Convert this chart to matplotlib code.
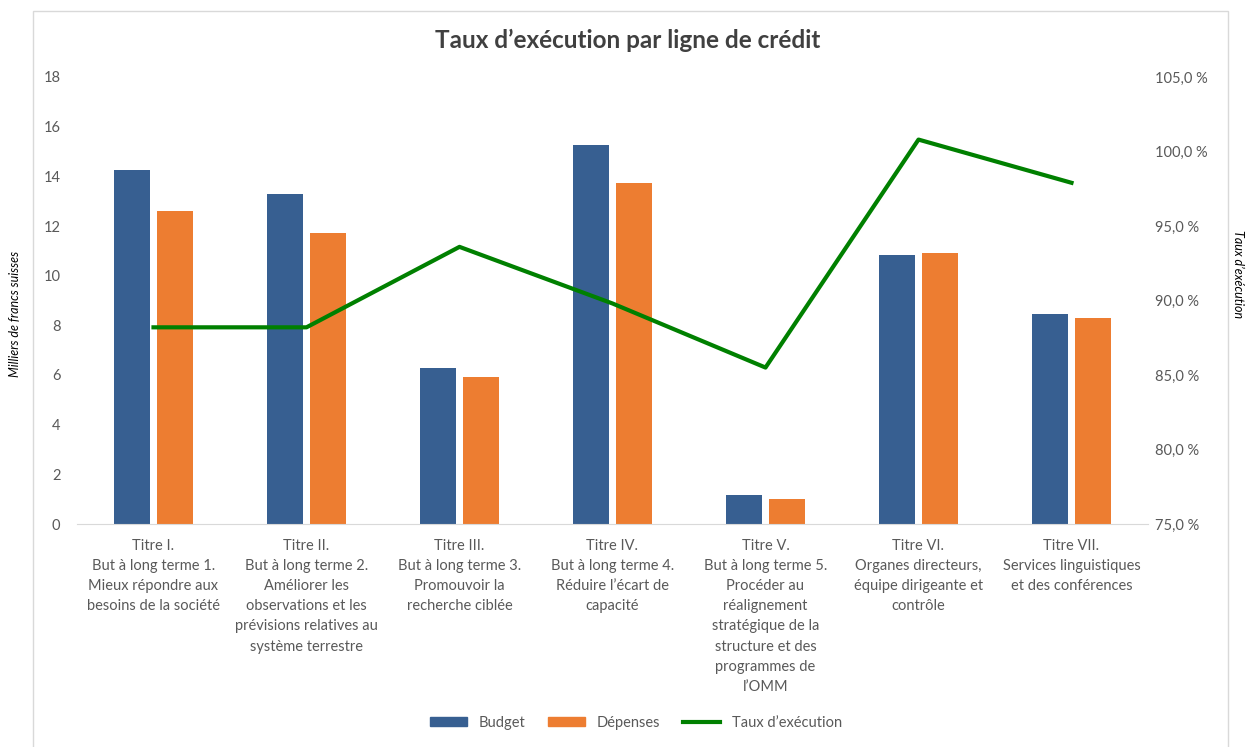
import numpy as np
import matplotlib
matplotlib.use("Agg")
import matplotlib.pyplot as plt
from matplotlib.patches import Patch, Rectangle
from matplotlib.lines import Line2D
from matplotlib.ticker import FuncFormatter

plt.rcParams['font.family'] = ['Lato', 'DejaVu Sans']

# Données
categories = [
    "Titre I.\nBut à long terme 1.\nMieux répondre aux\nbesoins de la société",
    "Titre II.\nBut à long terme 2.\nAméliorer les\nobservations et les\nprévisions relatives au\nsystème terrestre",
    "Titre III.\nBut à long terme 3.\nPromouvoir la\nrecherche ciblée",
    "Titre IV.\nBut à long terme 4.\nRéduire l’écart de\ncapacité",
    "Titre V.\nBut à long terme 5.\nProcéder au\nréalignement\nstratégique de la\nstructure et des\nprogrammes de\nl’OMM",
    "Titre VI.\nOrganes directeurs,\néquipe dirigeante et\ncontrôle",
    "Titre VII.\nServices linguistiques\net des conférences",
]
budget = [14.25, 13.28, 6.28, 15.25, 1.17, 10.82, 8.45]
depenses = [12.60, 11.71, 5.92, 13.72, 1.00, 10.90, 8.29]
taux = [88.2, 88.2, 93.6, 89.8, 85.5, 100.8, 97.9]

c_budget = '#375F91'
c_dep = '#ED7D31'
c_taux = '#008000'
c_txt = '#595959'

fig = plt.figure(figsize=(12.51, 7.47), dpi=100)

# cadre du graphique
fig.patches.append(Rectangle((33 / 1251, -0.05), (1228 - 33) / 1251, 1.05 - 11 / 747,
                             transform=fig.transFigure, fill=False,
                             edgecolor='#D9D9D9', linewidth=1))

ax = fig.add_axes([77 / 1251, 1 - 524 / 747, 1071 / 1251, (524 - 77) / 747])
x = np.arange(len(categories))
w = 0.23
ax.bar(x - 0.14, budget, w, color=c_budget, zorder=2)
ax.bar(x + 0.14, depenses, w, color=c_dep, zorder=2)

ax.set_xlim(-0.5, len(categories) - 0.5)
ax.set_ylim(0, 18)
ax.set_yticks(np.arange(0, 19, 2))
ax.set_xticks(x)
ax.set_xticklabels(categories, fontsize=10.5, color=c_txt, linespacing=1.55)
ax.tick_params(axis='both', length=0)
ax.tick_params(axis='y', labelsize=10.5, labelcolor=c_txt, pad=12)
ax.tick_params(axis='x', pad=11)
for s in ['top', 'left', 'right']:
    ax.spines[s].set_visible(False)
ax.spines['bottom'].set_color('#D9D9D9')
ax.set_ylabel('Milliers de francs suisses', fontsize=9, style='italic', color='black')
ax.yaxis.set_label_coords(-0.052, 0.47)

ax2 = ax.twinx()
ax2.plot(x, taux, color=c_taux, linewidth=3, zorder=3)
ax2.set_ylim(75, 105)
ax2.set_yticks(np.arange(75, 106, 5))
ax2.yaxis.set_major_formatter(FuncFormatter(lambda v, p: f"{v:.1f} %".replace('.', ',')))
ax2.tick_params(axis='y', length=0, labelsize=10.5, labelcolor=c_txt, pad=5)
for s in ['top', 'left', 'right', 'bottom']:
    ax2.spines[s].set_visible(False)
ax2.set_ylabel('Taux d’exécution', fontsize=9, style='italic', color='black', rotation=-90)
ax2.yaxis.set_label_coords(1.09, 0.56)

fig.text(628 / 1251, 1 - 40 / 747, 'Taux d’exécution par ligne de crédit',
         ha='center', va='center', fontsize=17.5, fontweight='bold', color='#404040')

handles = [Patch(color=c_budget), Patch(color=c_dep), Line2D([], [], color=c_taux, linewidth=3)]
fig.legend(handles, ['Budget', 'Dépenses', 'Taux d’exécution'], loc='center',
           bbox_to_anchor=(636 / 1251, 1 - 723 / 747), ncol=3, frameon=False,
           fontsize=10.5, labelcolor=c_txt, handlelength=2.5, handleheight=0.6,
           handletextpad=0.8, columnspacing=1.6)

fig.savefig('out.png', dpi=100)
